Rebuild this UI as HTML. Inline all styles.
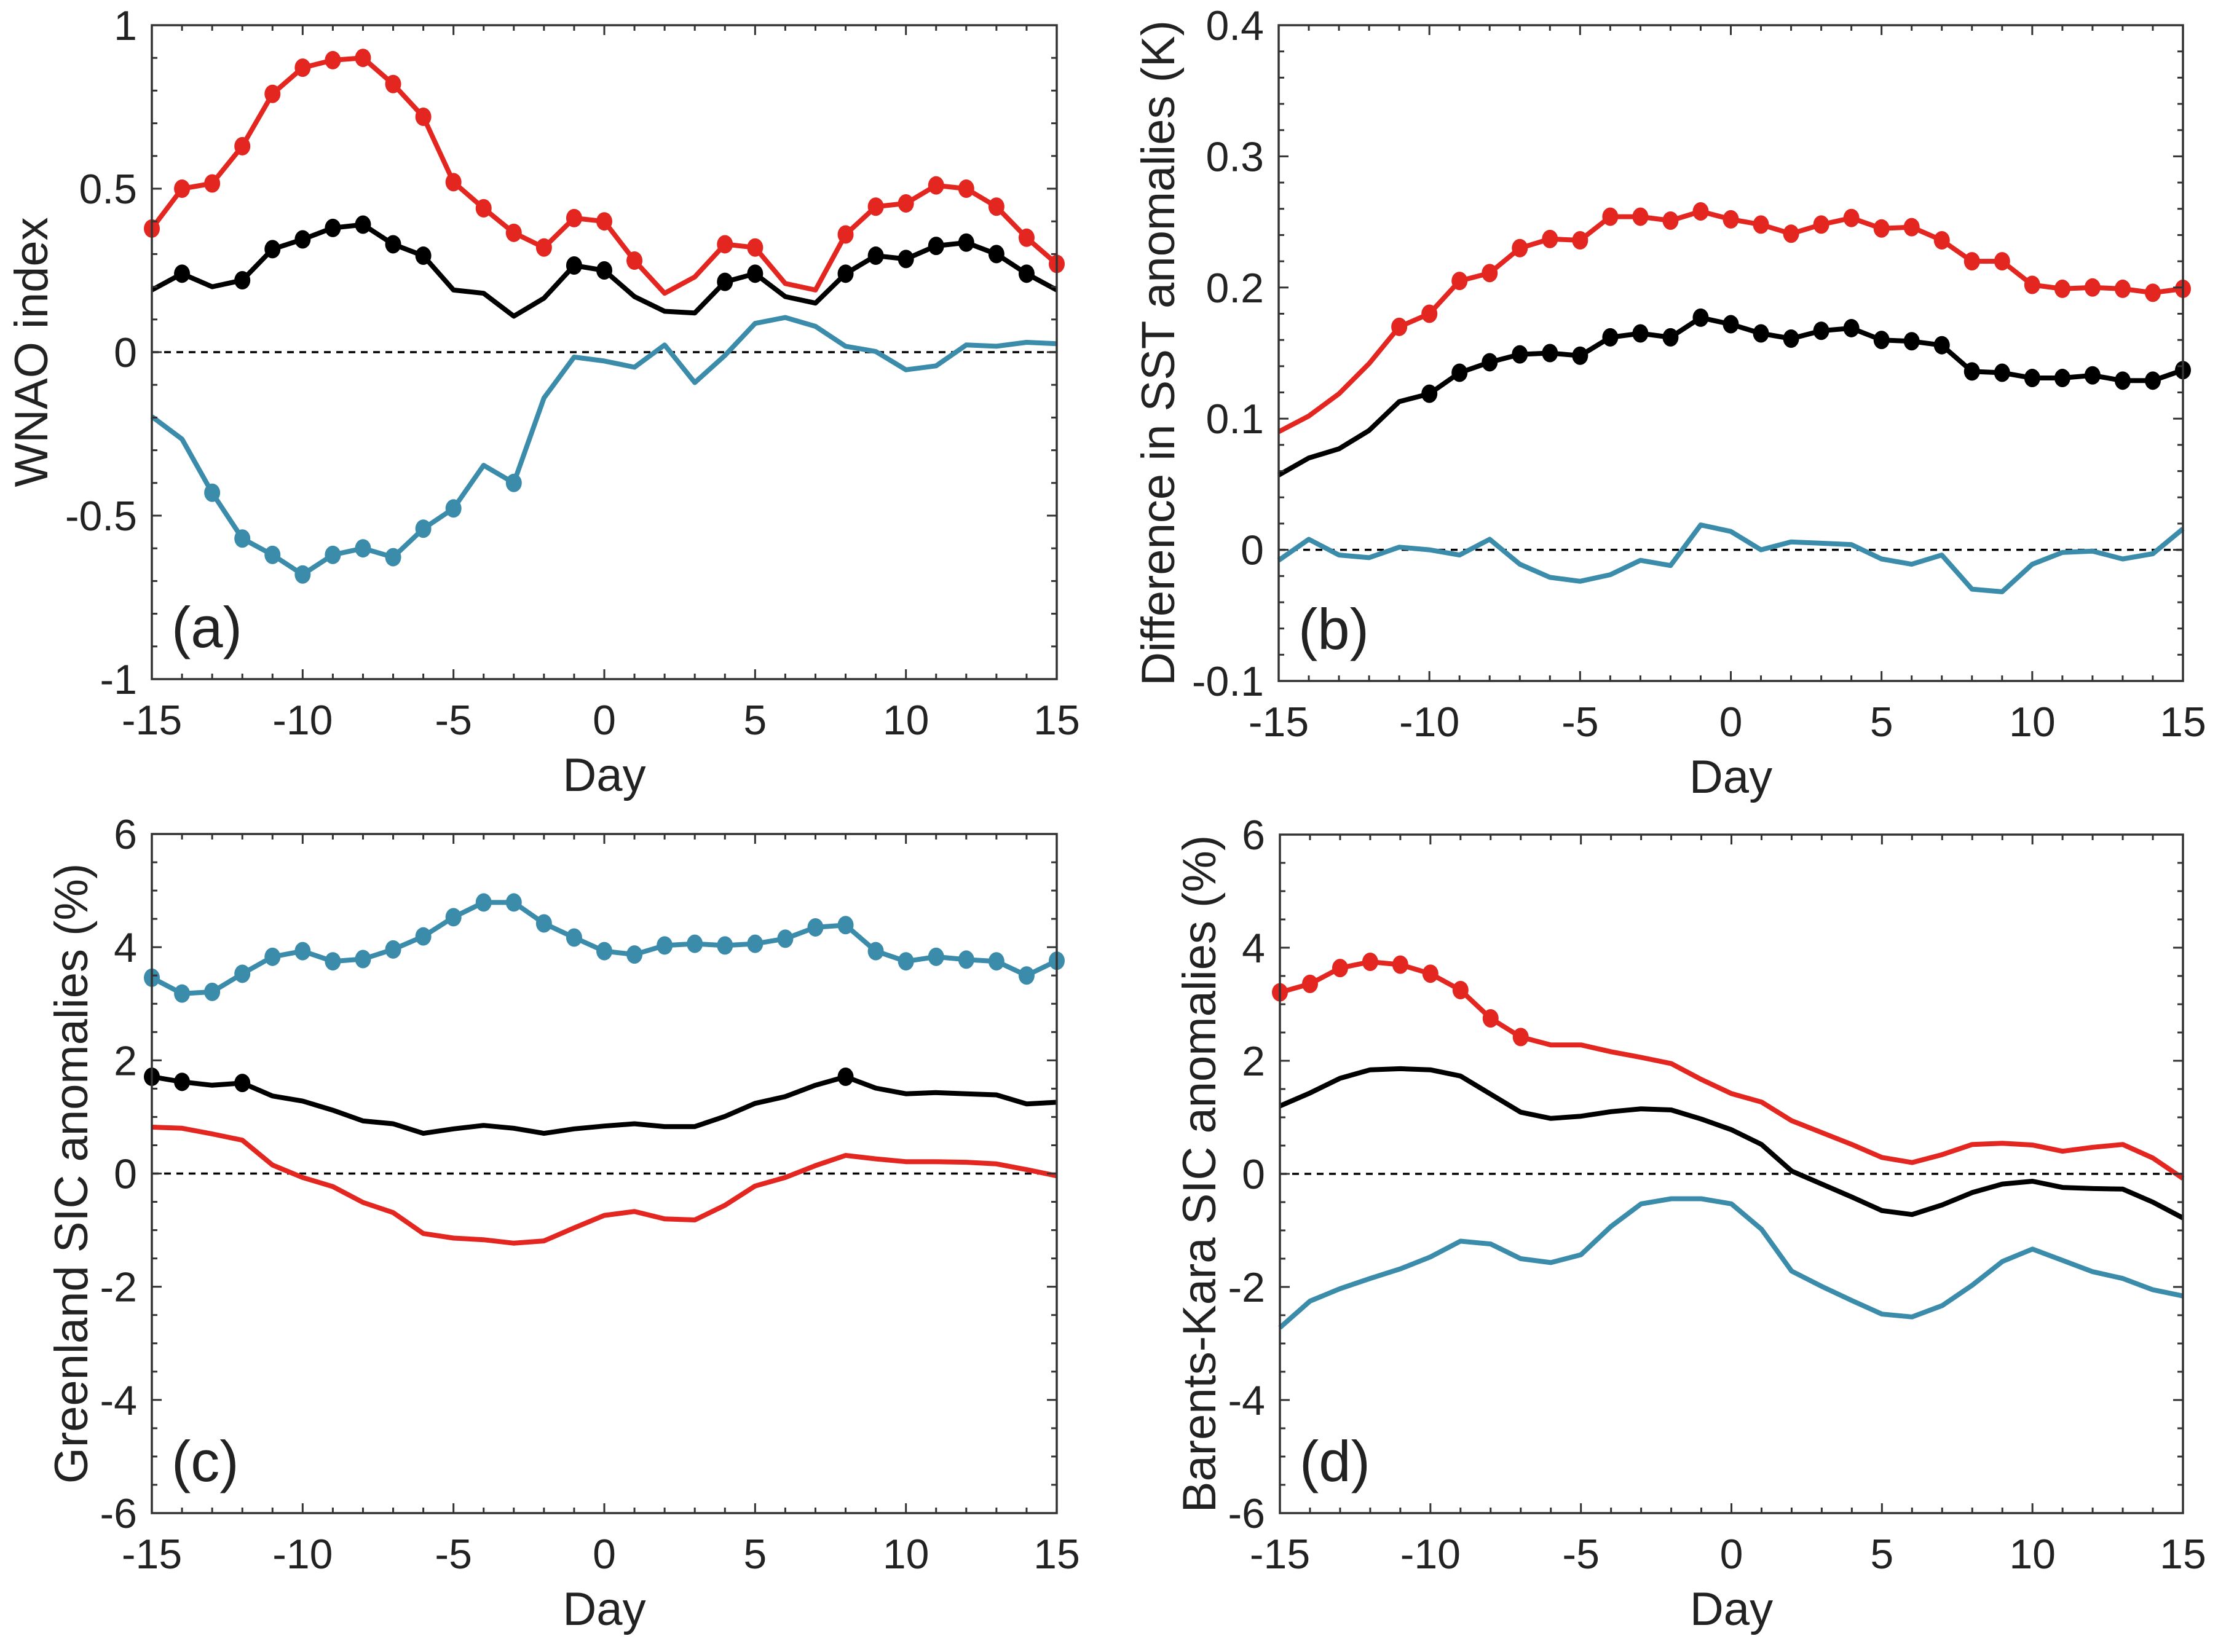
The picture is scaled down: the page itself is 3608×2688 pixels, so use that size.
<!DOCTYPE html>
<html><head><meta charset="utf-8">
<style>
html,body{margin:0;padding:0;background:#fff;}
svg{display:block;}
text{font-family:"Liberation Sans",sans-serif;fill:#222;}
</style></head>
<body>
<svg id="fig" width="3608" height="2688" viewBox="0 0 3608 2688" xmlns="http://www.w3.org/2000/svg"></svg>
<script>
const days = [-15,-14,-13,-12,-11,-10,-9,-8,-7,-6,-5,-4,-3,-2,-1,0,1,2,3,4,5,6,7,8,9,10,11,12,13,14,15];

// Panel (a) WNAO index
const aRed   = [0.378,0.50,0.516,0.63,0.79,0.87,0.893,0.90,0.82,0.72,0.52,0.44,0.365,0.32,0.41,0.40,0.28,0.18,0.23,0.33,0.32,0.21,0.19,0.36,0.445,0.455,0.51,0.50,0.445,0.35,0.27];
const aRedSig = [1,1,1,1,1,1,1,1,1,1,1,1,1,1,1,1,1,0,0,1,1,0,0,1,1,1,1,1,1,1,1];
const aBlack = [0.19,0.24,0.20,0.22,0.315,0.345,0.38,0.39,0.33,0.295,0.19,0.18,0.11,0.165,0.265,0.25,0.17,0.125,0.12,0.215,0.24,0.17,0.15,0.24,0.295,0.285,0.325,0.335,0.30,0.24,0.19];
const aBlackSig = [0,1,0,1,1,1,1,1,1,1,0,0,0,0,1,1,0,0,0,1,1,0,0,1,1,1,1,1,1,1,0];
const aBlue  = [-0.197,-0.266,-0.43,-0.57,-0.62,-0.68,-0.62,-0.60,-0.627,-0.54,-0.478,-0.346,-0.40,-0.14,-0.015,-0.027,-0.046,0.022,-0.093,-0.01,0.088,0.106,0.079,0.018,0.002,-0.054,-0.042,0.022,0.018,0.03,0.026];
const aBlueSig = [0,0,1,1,1,1,1,1,1,1,1,0,1,0,0,0,0,0,0,0,0,0,0,0,0,0,0,0,0,0,0];

// Panel (b) SST
const bRed   = [0.090,0.102,0.119,0.142,0.170,0.180,0.205,0.211,0.230,0.237,0.236,0.254,0.254,0.251,0.258,0.252,0.248,0.241,0.248,0.253,0.245,0.246,0.236,0.220,0.220,0.202,0.199,0.200,0.199,0.196,0.199];
const bRedSig = [0,0,0,0,1,1,1,1,1,1,1,1,1,1,1,1,1,1,1,1,1,1,1,1,1,1,1,1,1,1,1];
const bBlack = [0.057,0.070,0.077,0.091,0.113,0.119,0.135,0.143,0.149,0.150,0.148,0.162,0.165,0.162,0.177,0.172,0.165,0.161,0.167,0.169,0.160,0.159,0.156,0.136,0.135,0.131,0.131,0.133,0.129,0.129,0.137];
const bBlackSig = [0,0,0,0,0,1,1,1,1,1,1,1,1,1,1,1,1,1,1,1,1,1,1,1,1,1,1,1,1,1,1];
const bBlue  = [-0.008,0.008,-0.004,-0.006,0.002,0.0,-0.004,0.008,-0.011,-0.021,-0.024,-0.019,-0.008,-0.012,0.019,0.014,0.0,0.006,0.005,0.004,-0.007,-0.011,-0.004,-0.030,-0.032,-0.011,-0.002,-0.001,-0.007,-0.003,0.016];
const bBlueSig = [0,0,0,0,0,0,0,0,0,0,0,0,0,0,0,0,0,0,0,0,0,0,0,0,0,0,0,0,0,0,0];

// Panel (c) Greenland SIC
const cRed   = [0.82,0.80,0.70,0.59,0.15,-0.07,-0.23,-0.51,-0.69,-1.06,-1.14,-1.17,-1.23,-1.19,-0.96,-0.74,-0.67,-0.80,-0.82,-0.56,-0.22,-0.07,0.14,0.32,0.26,0.21,0.21,0.20,0.17,0.07,-0.04];
const cRedSig = [0,0,0,0,0,0,0,0,0,0,0,0,0,0,0,0,0,0,0,0,0,0,0,0,0,0,0,0,0,0,0];
const cBlack = [1.71,1.62,1.56,1.60,1.37,1.28,1.12,0.93,0.88,0.71,0.79,0.85,0.80,0.71,0.79,0.84,0.88,0.83,0.83,1.01,1.24,1.36,1.56,1.71,1.51,1.41,1.43,1.41,1.39,1.23,1.26];
const cBlackSig = [1,1,0,1,0,0,0,0,0,0,0,0,0,0,0,0,0,0,0,0,0,0,0,1,0,0,0,0,0,0,0];
const cBlue  = [3.46,3.18,3.21,3.53,3.83,3.93,3.75,3.79,3.96,4.19,4.53,4.79,4.79,4.42,4.17,3.93,3.87,4.03,4.06,4.03,4.06,4.15,4.35,4.39,3.93,3.75,3.83,3.78,3.75,3.50,3.76];
const cBlueSig = [1,1,1,1,1,1,1,1,1,1,1,1,1,1,1,1,1,1,1,1,1,1,1,1,1,1,1,1,1,1,1];

// Panel (d) Barents-Kara SIC
const dRed   = [3.21,3.36,3.64,3.75,3.70,3.54,3.25,2.75,2.42,2.28,2.28,2.16,2.06,1.95,1.67,1.42,1.27,0.94,0.73,0.52,0.29,0.20,0.34,0.52,0.54,0.51,0.40,0.47,0.52,0.28,-0.08];
const dRedSig = [1,1,1,1,1,1,1,1,1,0,0,0,0,0,0,0,0,0,0,0,0,0,0,0,0,0,0,0,0,0,0];
const dBlack = [1.20,1.43,1.69,1.84,1.86,1.84,1.73,1.41,1.09,0.98,1.02,1.10,1.15,1.13,0.97,0.78,0.52,0.05,-0.18,-0.41,-0.65,-0.72,-0.55,-0.33,-0.18,-0.13,-0.24,-0.26,-0.27,-0.50,-0.78];
const dBlackSig = [0,0,0,0,0,0,0,0,0,0,0,0,0,0,0,0,0,0,0,0,0,0,0,0,0,0,0,0,0,0,0];
const dBlue  = [-2.72,-2.25,-2.03,-1.85,-1.68,-1.47,-1.19,-1.24,-1.50,-1.57,-1.43,-0.93,-0.53,-0.44,-0.44,-0.53,-0.98,-1.72,-1.99,-2.24,-2.48,-2.53,-2.33,-1.97,-1.55,-1.33,-1.53,-1.73,-1.85,-2.05,-2.16];
const dBlueSig = [0,0,0,0,0,0,0,0,0,0,0,0,0,0,0,0,0,0,0,0,0,0,0,0,0,0,0,0,0,0,0];

const xTicks = [-15,-10,-5,0,5,10,15];
const aYTicks = [-1,-0.5,0,0.5,1];
const aYLabels = ["-1","-0.5","0","0.5","1"];
const bYTicks = [-0.1,0,0.1,0.2,0.3,0.4];
const bYLabels = ["-0.1","0","0.1","0.2","0.3","0.4"];
const cdYTicks = [-6,-4,-2,0,2,4,6];
const cdYLabels = ["-6","-4","-2","0","2","4","6"];

const RED="#e3261f", BLACK="#000", BLUE="#3b8cab";
const NS="http://www.w3.org/2000/svg";
const svg=document.getElementById('fig');
function el(tag,attrs,parent){const e=document.createElementNS(NS,tag);for(const k in attrs)e.setAttribute(k,attrs[k]);(parent||svg).appendChild(e);return e;}

const panels=[
 {id:'a',L:247,R:1719,T:41,B:1105,ymin:-1,ymax:1,minor:0.1,yt:aYTicks,yl:aYLabels,title:'WNAO index',titleX:50,
  series:[[aBlue,aBlueSig,BLUE,'blue'],[aBlack,aBlackSig,BLACK,'black'],[aRed,aRedSig,RED,'red']]},
 {id:'b',L:2080,R:3551,T:41,B:1108,ymin:-0.1,ymax:0.4,minor:0.02,yt:bYTicks,yl:bYLabels,title:'Difference in SST anomalies (K)',titleX:1883,
  series:[[bBlue,bBlueSig,BLUE,'blue'],[bBlack,bBlackSig,BLACK,'black'],[bRed,bRedSig,RED,'red']]},
 {id:'c',L:247,R:1719,T:1357,B:2462,ymin:-6,ymax:6,minor:0.5,yt:cdYTicks,yl:cdYLabels,title:'Greenland SIC anomalies (%)',titleX:115,
  series:[[cRed,cRedSig,RED,'red'],[cBlack,cBlackSig,BLACK,'black'],[cBlue,cBlueSig,BLUE,'blue']]},
 {id:'d',L:2082,R:3551,T:1358,B:2462,ymin:-6,ymax:6,minor:0.5,yt:cdYTicks,yl:cdYLabels,title:'Barents-Kara SIC anomalies (%)',titleX:1950,
  series:[[dBlue,dBlueSig,BLUE,'blue'],[dBlack,dBlackSig,BLACK,'black'],[dRed,dRedSig,RED,'red']]}
];

panels.forEach(p=>{
  const g=el('g',{});
  
  
  const xs=d=>p.L+(d+15)/30*(p.R-p.L);
  const ys=v=>p.B-(v-p.ymin)/(p.ymax-p.ymin)*(p.B-p.T);
  const z=el('line',{x1:p.L,x2:p.R,y1:ys(0),y2:ys(0),stroke:'#000','stroke-width':3.5,'stroke-dasharray':'11 9'},g);
  
  
  p.series.forEach(s=>{
    const [vals,sig,col,nm]=s;
    const pts=vals.map((v,i)=>xs(days[i]).toFixed(1)+','+ys(v).toFixed(1)).join(' ');
    const pl=el('polyline',{points:pts,fill:'none',stroke:col,'stroke-width':8,'stroke-linejoin':'round'},g);
    
    
    vals.forEach((v,i)=>{
      if(sig[i]){
        const c=el('ellipse',{cx:xs(days[i]),cy:ys(v),rx:13,ry:15,fill:col},g);
        
        
      }
    });
  });
  const fr=el('rect',{x:p.L,y:p.T,width:p.R-p.L,height:p.B-p.T,fill:'none',stroke:'#333','stroke-width':3.5},g);
  
  
  for(let d=-15;d<=15;d++){
    const len=(d%5===0)?16:9;
    el('line',{x1:xs(d),x2:xs(d),y1:p.B,y2:p.B-len,stroke:'#333','stroke-width':3},g);
    el('line',{x1:xs(d),x2:xs(d),y1:p.T,y2:p.T+len,stroke:'#333','stroke-width':3},g);
  }
  xTicks.forEach(d=>{
    const t=el('text',{x:xs(d),y:p.B+90,'font-size':68,'text-anchor':'middle'},g);
    t.textContent=String(d);
    
    
  });
  const n=Math.round((p.ymax-p.ymin)/p.minor);
  for(let k=0;k<=n;k++){
    const v=p.ymin+k*p.minor;
    const major=p.yt.some(t=>Math.abs(t-v)<1e-6);
    const len=major?16:9;
    el('line',{x1:p.L,x2:p.L+len,y1:ys(v),y2:ys(v),stroke:'#333','stroke-width':3},g);
    el('line',{x1:p.R,x2:p.R-len,y1:ys(v),y2:ys(v),stroke:'#333','stroke-width':3},g);
  }
  p.yt.forEach((v,i)=>{
    const t=el('text',{x:p.L-24,y:ys(v)+24,'font-size':68,'text-anchor':'end'},g);
    t.textContent=p.yl[i];
    
    
  });
  const xt=el('text',{x:(p.L+p.R)/2,y:p.B+182,'font-size':76,'text-anchor':'middle'},g);
  xt.textContent='Day';
  
  
  const cy=(p.T+p.B)/2;
  const yt=el('text',{x:p.titleX+27,y:cy,'font-size':76,'text-anchor':'middle',transform:`rotate(-90 ${p.titleX+27} ${cy})`},g);
  yt.textContent=p.title;
  
  
  const pl=el('text',{x:p.L+32,y:p.B-52,'font-size':94},g);
  pl.textContent='('+p.id+')';
  
  
});
</script>
</body></html>
